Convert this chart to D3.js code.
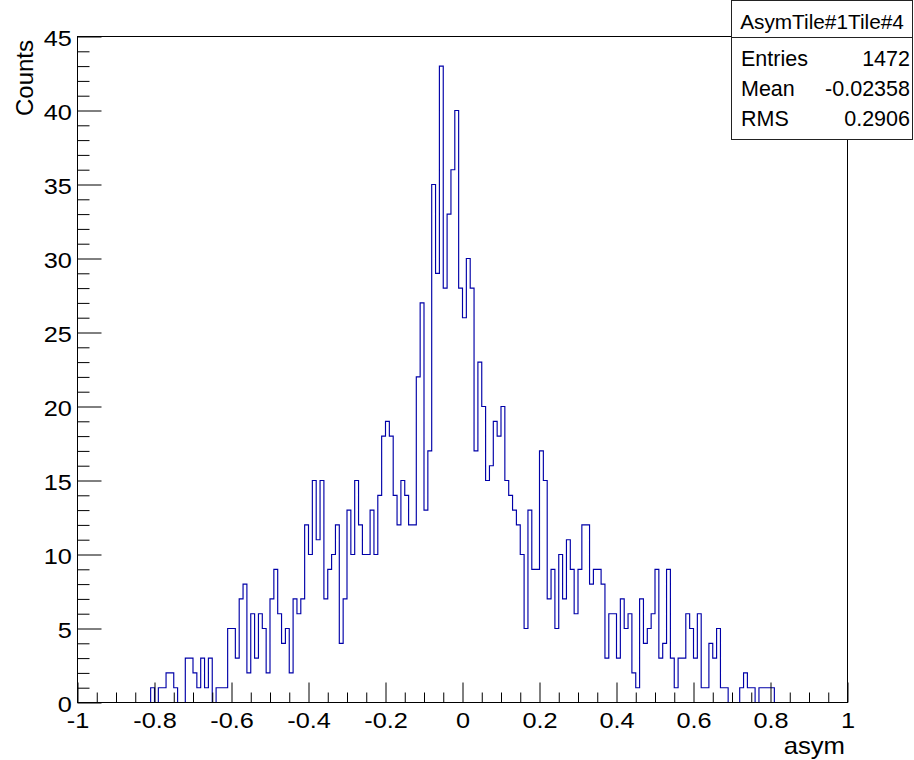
<!DOCTYPE html>
<html>
<head>
<meta charset="utf-8">
<script src="https://cdn.jsdelivr.net/npm/d3@7/dist/d3.min.js"></script>
<style>
  html, body { margin: 0; padding: 0; background: #ffffff; }
  svg { display: block; }
</style>
</head>
<body>
<script>
// Histogram of asym, bins of width 0.01 starting at -0.81
const binStart = -0.81;
const binWidth = 0.01;
const counts = [
  1, 0, 1, 1, 2, 2, 1, 0, 0, 3,
  3, 2, 1, 3, 1, 3, 0, 1, 1, 1,
  5, 5, 3, 7, 8, 2, 6, 3, 6, 5,
  2, 7, 9, 6, 4, 5, 2, 7, 6, 7,
  12, 10, 15, 11, 15, 7, 9, 10, 12, 4,
  7, 13, 10, 15, 12, 10, 10, 13, 10, 14,
  18, 19, 18, 14, 12, 15, 14, 12, 12, 22,
  27, 13, 17, 35, 29, 43, 28, 33, 36, 40,
  28, 26, 30, 28, 17, 23, 20, 15, 16, 19,
  18, 20, 15, 14, 13, 12, 10, 5, 13, 9,
  9, 17, 15, 7, 9, 5, 10, 7, 11, 9,
  6, 9, 12, 12, 8, 9, 9, 8, 3, 6,
  6, 3, 7, 5, 6, 2, 1, 7, 4, 5,
  6, 9, 3, 4, 9, 3, 1, 3, 3, 6,
  5, 3, 6, 1, 1, 4, 3, 5, 1, 1,
  0, 0, 0, 1, 2, 1, 1, 0, 1, 1, 1, 1
];

// Axis ticks and labels
const xMajor = [-1, -0.8, -0.6, -0.4, -0.2, 0, 0.2, 0.4, 0.6, 0.8, 1];
const xMajorLabels = ["-1", "-0.8", "-0.6", "-0.4", "-0.2", "0", "0.2", "0.4", "0.6", "0.8", "1"];
const xMinor = [-0.95, -0.9, -0.85, -0.75, -0.7, -0.65, -0.55, -0.5, -0.45, -0.35, -0.3, -0.25,
                -0.15, -0.1, -0.05, 0.05, 0.1, 0.15, 0.25, 0.3, 0.35, 0.45, 0.5, 0.55,
                0.65, 0.7, 0.75, 0.85, 0.9, 0.95];
const yMajor = [0, 5, 10, 15, 20, 25, 30, 35, 40, 45];
const yMajorLabels = ["0", "5", "10", "15", "20", "25", "30", "35", "40", "45"];
const yMinor = [1, 2, 3, 4, 6, 7, 8, 9, 11, 12, 13, 14, 16, 17, 18, 19, 21, 22, 23, 24,
                26, 27, 28, 29, 31, 32, 33, 34, 36, 37, 38, 39, 41, 42, 43, 44];

// Statistics box
const statsTitle = "AsymTile#1Tile#4";
const statLabels = ["Entries", "Mean", "RMS"];
const statValues = ["1472", "-0.02358", "0.2906"];

const xTitle = "asym";
const yTitle = "Counts";

const W = 914, H = 760;
const FONT = "'Liberation Sans', Arial, Helvetica, sans-serif";

const svg = d3.select("body").append("svg")
  .attr("width", W).attr("height", H)
  .attr("viewBox", `0 0 ${W} ${H}`);

svg.append("rect").attr("width", W).attr("height", H).attr("fill", "#fff");

const x = d3.scaleLinear().domain([-1, 1]).range([77.5, 847.5]);
const y = d3.scaleLinear().domain([0, 45]).range([702.5, 36.5]);

// Step outline of the histogram
const stepPts = [[-1, 0]];
counts.forEach((c, i) => stepPts.push([binStart + i * binWidth, c]));
stepPts.push([binStart + counts.length * binWidth, 0]);
stepPts.push([1, 0]);

const line = d3.line()
  .x(d => x(d[0]))
  .y(d => y(d[1]))
  .curve(d3.curveStepAfter);

svg.append("path")
  .datum(stepPts)
  .attr("d", line)
  .attr("fill", "none")
  .attr("stroke", "#0000a8")
  .attr("stroke-width", 1.15);

// Axes (ticks point into the frame)
function styleAxis(g) {
  g.select(".domain").remove();
  g.selectAll("line").attr("stroke", "#000").attr("stroke-width", 1);
  g.attr("font-family", FONT).attr("font-size", 22);
  g.selectAll("text").attr("fill", "#000");
}

const xMinorAxis = d3.axisBottom(x).tickValues(xMinor).tickSize(-10).tickFormat("");
svg.append("g").attr("transform", `translate(0,${y(0)})`).call(xMinorAxis).call(styleAxis);

const xAxis = d3.axisBottom(x).tickValues(xMajor)
  .tickFormat((d, i) => xMajorLabels[i])
  .tickSize(-20).tickSizeOuter(0).tickPadding(10);
const gx = svg.append("g").attr("transform", `translate(0,${y(0)})`).call(xAxis).call(styleAxis);
gx.selectAll("text").attr("transform", "scale(1.15,1)");

const yMinorAxis = d3.axisLeft(y).tickValues(yMinor).tickSize(-12).tickFormat("");
svg.append("g").attr("transform", `translate(${x(-1)},0)`).call(yMinorAxis).call(styleAxis);

const yAxis = d3.axisLeft(y).tickValues(yMajor)
  .tickFormat((d, i) => yMajorLabels[i])
  .tickSize(-24).tickSizeOuter(0).tickPadding(5);
const gy = svg.append("g").attr("transform", `translate(${x(-1)},0)`).call(yAxis).call(styleAxis);
gy.selectAll("text").attr("dy", "0.42em").attr("transform", "scale(1.15,1)");

// Frame
svg.append("rect")
  .attr("x", x(-1)).attr("y", y(45))
  .attr("width", x(1) - x(-1)).attr("height", y(0) - y(45))
  .attr("fill", "none").attr("stroke", "#000").attr("stroke-width", 1);

// Axis titles
svg.append("text")
  .attr("transform", `translate(845,754) scale(1.07,1)`)
  .attr("text-anchor", "end")
  .attr("font-family", FONT).attr("font-size", 24)
  .text(xTitle);

svg.append("text")
  .attr("transform", "translate(33,40) rotate(-90)")
  .attr("text-anchor", "end")
  .attr("font-family", FONT).attr("font-size", 24)
  .text(yTitle);

// Statistics box
const box = svg.append("g");
const bx = 731.5, by = 0.5, bw = 181, bh = 139, rowH = 30;
box.append("rect")
  .attr("x", bx).attr("y", by).attr("width", bw).attr("height", bh)
  .attr("fill", "#fff").attr("stroke", "#222").attr("stroke-width", 1);
box.append("line")
  .attr("x1", bx).attr("x2", bx + bw).attr("y1", 37.5).attr("y2", 37.5)
  .attr("stroke", "#222").attr("stroke-width", 1);
box.append("text")
  .attr("x", bx + bw / 2).attr("y", 29)
  .attr("text-anchor", "middle")
  .attr("font-family", FONT).attr("font-size", 20.8)
  .text(statsTitle);

statLabels.forEach((lab, i) => {
  box.append("text")
    .attr("x", 741).attr("y", 66 + i * rowH)
    .attr("font-family", FONT).attr("font-size", 21.5)
    .text(lab);
  box.append("text")
    .attr("x", 910).attr("y", 66 + i * rowH)
    .attr("text-anchor", "end")
    .attr("font-family", FONT).attr("font-size", 21.5)
    .text(statValues[i]);
});
</script>
</body>
</html>
